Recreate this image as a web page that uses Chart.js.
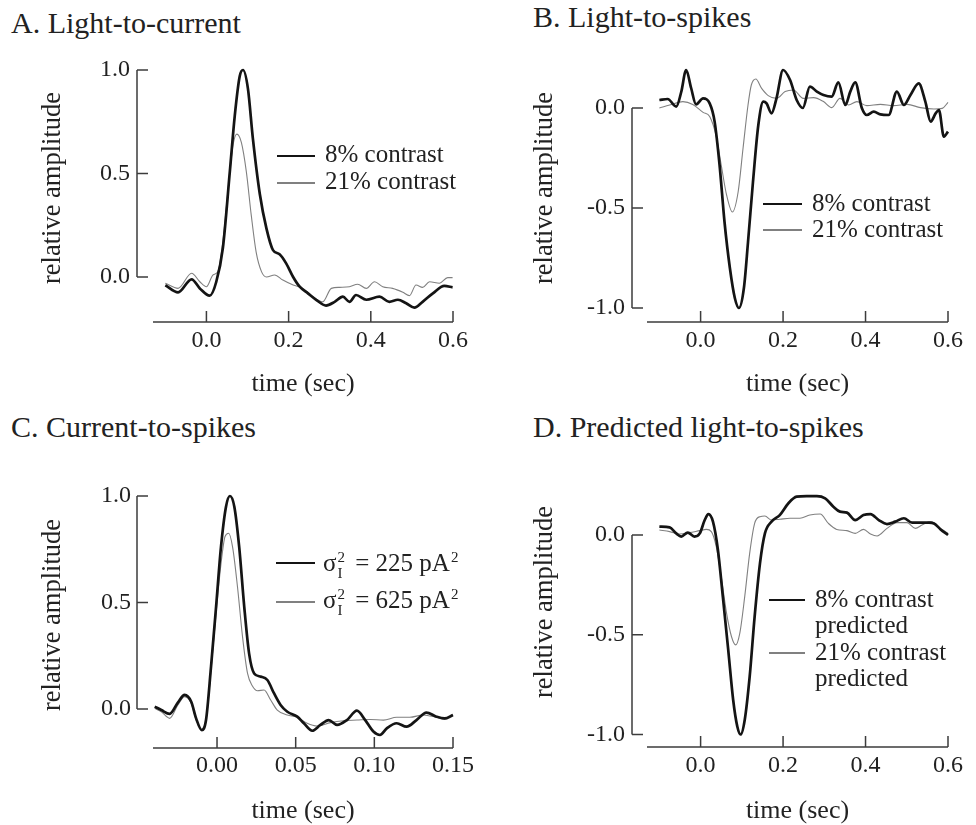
<!DOCTYPE html>
<html>
<head>
<meta charset="utf-8">
<script src="https://cdn.jsdelivr.net/npm/chart.js@4.4.1/dist/chart.umd.min.js"></script>
<style>
html, body { margin: 0; padding: 0; background: #fff; overflow: hidden; }
body { width: 976px; height: 825px; position: relative; font-family: "Liberation Serif", serif; color: #222; }
canvas { position: absolute; }
.title { position: absolute; font-size: 30px; line-height: 1; white-space: nowrap; }
.row { position: absolute; font-size: 25px; line-height: 1; white-space: nowrap; }
.row.tall { line-height: 26px; }
.swatch { position: absolute; }
.st { position: relative; display: inline-block; width: 0.5em; height: 0; }
.st span { position: absolute; left: 1px; font-size: 15px; line-height: 1; }
.st .sup { bottom: 6px; }
.st .sub { bottom: -10px; }
</style>
</head>
<body>
<div class="title" style="left:11px;top:8px">A. Light-to-current</div>
<div class="title" style="left:533px;top:2px">B. Light-to-spikes</div>
<div class="title" style="left:11px;top:412px">C. Current-to-spikes</div>
<div class="title" style="left:533px;top:412px">D. Predicted light-to-spikes</div>

<canvas id="chartA" width="490" height="400" style="left:0;top:0"></canvas>
<canvas id="chartB" width="486" height="400" style="left:490px;top:0"></canvas>
<canvas id="chartC" width="490" height="427" style="left:0;top:400px"></canvas>
<canvas id="chartD" width="486" height="427" style="left:490px;top:400px"></canvas>

<script>
// A. light-to-current
var aTime8 = [-0.10,-0.069,-0.036,-0.016,0.008,0.024,0.040,0.057,0.069,0.081,0.089,0.101,0.113,0.130,0.146,0.162,0.178,0.194,0.211,0.227,0.247,0.267,0.291,0.312,0.332,0.348,0.364,0.389,0.421,0.445,0.466,0.486,0.506,0.526,0.551,0.579,0.599];
var aAmp8 = [-0.04,-0.074,-0.011,-0.055,-0.09,-0.023,0.14,0.51,0.78,0.97,1.0,0.91,0.67,0.40,0.235,0.13,0.11,0.066,0.0,-0.047,-0.079,-0.11,-0.138,-0.12,-0.095,-0.12,-0.087,-0.11,-0.095,-0.12,-0.11,-0.127,-0.148,-0.12,-0.079,-0.043,-0.05];
var aTime21 = [-0.10,-0.069,-0.036,-0.016,0.0,0.016,0.028,0.040,0.053,0.065,0.074,0.085,0.097,0.109,0.121,0.134,0.146,0.166,0.186,0.211,0.235,0.259,0.283,0.304,0.324,0.348,0.368,0.389,0.409,0.429,0.453,0.478,0.494,0.510,0.526,0.543,0.567,0.587,0.599];
var aAmp21 = [-0.03,-0.055,0.018,-0.023,-0.047,0.01,0.026,0.17,0.43,0.64,0.69,0.65,0.51,0.30,0.12,0.026,0.0,0.01,-0.015,-0.039,-0.055,-0.095,-0.12,-0.055,-0.05,-0.047,-0.035,-0.055,-0.023,-0.047,-0.055,-0.074,-0.09,-0.039,-0.05,-0.023,-0.03,-0.003,-0.003];

// B. light-to-spikes
var bTime8 = [-0.10,-0.08,-0.059,-0.047,-0.035,-0.023,-0.011,0.006,0.022,0.034,0.046,0.058,0.071,0.083,0.093,0.105,0.115,0.127,0.140,0.152,0.160,0.172,0.184,0.200,0.217,0.233,0.248,0.265,0.282,0.298,0.318,0.334,0.351,0.363,0.375,0.391,0.403,0.420,0.436,0.456,0.476,0.493,0.509,0.529,0.545,0.558,0.570,0.578,0.590,0.600];
var bAmp8 = [0.04,0.045,0.007,0.08,0.19,0.10,0.018,0.048,0.023,-0.068,-0.285,-0.57,-0.80,-0.95,-1.0,-0.90,-0.67,-0.37,-0.085,0.032,0.023,-0.027,0.048,0.19,0.14,0.04,0.0,0.107,0.082,0.065,0.057,0.128,0.015,0.082,0.128,0.0,-0.035,-0.018,-0.032,-0.035,0.082,0.015,0.065,0.123,0.032,-0.068,-0.027,-0.01,-0.143,-0.118];
var bTime21 = [-0.10,-0.075,-0.043,-0.019,0.006,0.022,0.038,0.050,0.063,0.077,0.091,0.103,0.115,0.123,0.134,0.148,0.164,0.184,0.205,0.225,0.249,0.274,0.298,0.318,0.338,0.359,0.379,0.403,0.436,0.468,0.501,0.533,0.566,0.586,0.600];
var bAmp21 = [0.0,0.015,0.032,0.018,-0.022,-0.043,-0.143,-0.285,-0.435,-0.52,-0.42,-0.20,0.015,0.115,0.145,0.098,0.062,0.048,0.082,0.09,0.048,0.052,0.032,0.002,0.048,0.015,0.032,0.012,0.018,0.012,0.018,0.002,-0.005,-0.002,0.028];

// C. current-to-spikes
var cTime225 = [-0.0396,-0.0354,-0.0301,-0.0249,-0.0206,-0.0164,-0.0133,-0.0097,-0.007,-0.0038,-0.0006,0.0025,0.0057,0.0082,0.011,0.0141,0.0173,0.0204,0.0236,0.0278,0.032,0.0362,0.0404,0.0447,0.051,0.0552,0.0605,0.0657,0.071,0.0763,0.0826,0.0889,0.0942,0.0994,0.1036,0.1079,0.1142,0.1205,0.1268,0.1331,0.1395,0.1447,0.15];
var cAmp225 = [0.011,-0.005,-0.023,0.03,0.066,0.034,-0.044,-0.099,-0.052,0.2,0.48,0.76,0.95,1.0,0.95,0.76,0.48,0.26,0.167,0.152,0.136,0.074,0.019,-0.013,-0.036,-0.067,-0.102,-0.075,-0.052,-0.075,-0.052,-0.008,-0.052,-0.106,-0.122,-0.091,-0.067,-0.083,-0.052,-0.017,-0.036,-0.044,-0.028];
var cTime625 = [-0.0396,-0.0354,-0.0301,-0.0249,-0.0206,-0.0164,-0.0133,-0.0097,-0.007,-0.0038,-0.0006,0.0025,0.0051,0.0074,0.0099,0.013,0.0162,0.0194,0.0225,0.0257,0.0299,0.0341,0.0383,0.0446,0.051,0.0573,0.0636,0.0721,0.0805,0.089,0.0974,0.1058,0.1142,0.1226,0.131,0.1394,0.1447,0.15];
var cAmp625 = [0.003,-0.013,-0.044,0.019,0.058,0.027,-0.049,-0.099,-0.052,0.183,0.45,0.68,0.81,0.825,0.76,0.574,0.34,0.167,0.108,0.086,0.089,0.042,-0.005,-0.028,-0.039,-0.067,-0.08,-0.064,-0.055,-0.052,-0.049,-0.052,-0.039,-0.039,-0.028,-0.039,-0.049,-0.033];

// D. predicted light-to-spikes
var dTime8 = [-0.10,-0.075,-0.059,-0.047,-0.031,-0.015,-0.002,0.010,0.019,0.030,0.042,0.054,0.067,0.079,0.089,0.097,0.107,0.119,0.131,0.144,0.156,0.172,0.192,0.213,0.233,0.257,0.282,0.302,0.322,0.338,0.355,0.375,0.395,0.412,0.432,0.452,0.472,0.493,0.513,0.533,0.554,0.566,0.582,0.600];
var dAmp8 = [0.042,0.038,0.008,-0.008,0.012,-0.008,0.008,0.075,0.105,0.067,-0.075,-0.31,-0.576,-0.827,-0.96,-1.0,-0.927,-0.71,-0.41,-0.142,0.008,0.067,0.1,0.159,0.192,0.195,0.195,0.184,0.142,0.117,0.112,0.075,0.1,0.105,0.075,0.055,0.067,0.084,0.062,0.062,0.062,0.058,0.028,0.0];
var dTime21 = [-0.10,-0.075,-0.051,-0.027,-0.002,0.014,0.026,0.038,0.050,0.063,0.075,0.085,0.095,0.107,0.119,0.131,0.144,0.156,0.172,0.192,0.217,0.241,0.265,0.290,0.310,0.330,0.355,0.375,0.395,0.412,0.428,0.452,0.476,0.501,0.521,0.537,0.558,0.582,0.600];
var dAmp21 = [0.025,0.017,0.005,0.012,0.022,0.028,0.017,-0.058,-0.209,-0.393,-0.51,-0.551,-0.493,-0.309,-0.092,0.058,0.092,0.095,0.075,0.079,0.084,0.084,0.1,0.105,0.058,0.028,0.022,0.008,0.028,0.005,-0.005,0.033,0.062,0.062,0.033,0.05,0.067,0.033,0.008];

// tick labels
var lightTicks = [0.0, 0.2, 0.4, 0.6];
var currentTicks = [0.00, 0.05, 0.10, 0.15];
var posTicks = [0.0, 0.5, 1.0];
var negTicks = [-1.0, -0.5, 0.0];

// legend labels
var contrastLabels = ['8% contrast', '21% contrast'];
var sigmaLabels = ['225', '625'];
var predictedLabels = ['8% contrast<br>predicted', '21% contrast<br>predicted'];

var xTitle = 'time (sec)';
var yTitle = 'relative amplitude';

var dark = '#141414';
var grey = '#808080';
var axisColor = '#3c3c3c';
var textColor = '#222';
var serif = '"Liberation Serif", serif';

function pts(t, v) {
    return t.map(function(x, i) { return { x: x, y: v[i] }; });
}

// detached axis lines with inward ticks
var spines = {
    id: 'spines',
    afterDraw: function(chart, args, opts) {
        var ctx = chart.ctx, a = chart.chartArea;
        var x = chart.scales.x, y = chart.scales.y;
        var yv = y.ticks.map(function(t) { return t.value; });
        var yx = a.left - opts.gap;
        ctx.save();
        ctx.strokeStyle = axisColor;
        ctx.lineWidth = 1.5;
        ctx.beginPath();
        ctx.moveTo(yx, y.getPixelForValue(Math.max.apply(null, yv)));
        ctx.lineTo(yx, y.getPixelForValue(Math.min.apply(null, yv)));
        yv.forEach(function(v) {
            var p = y.getPixelForValue(v);
            ctx.moveTo(yx, p);
            ctx.lineTo(yx + 11, p);
        });
        ctx.moveTo(a.left, a.bottom);
        ctx.lineTo(a.right, a.bottom);
        x.ticks.forEach(function(t) {
            var p = x.getPixelForValue(t.value);
            ctx.moveTo(p, a.bottom);
            ctx.lineTo(p, a.bottom - 11);
        });
        ctx.stroke();
        ctx.restore();
    }
};

function makeChart(id, p) {
    return new Chart(document.getElementById(id), {
        type: 'line',
        data: {
            datasets: [{
                data: pts(p.t1, p.v1),
                borderColor: dark,
                borderWidth: 2.7
            }, {
                data: pts(p.t2, p.v2),
                borderColor: grey,
                borderWidth: 1.1
            }]
        },
        options: {
            responsive: false,
            animation: false,
            events: [],
            layout: { padding: { left: 0, right: p.right, top: p.top, bottom: 0 } },
            elements: {
                point: { radius: 0 },
                line: { cubicInterpolationMode: 'monotone' }
            },
            datasets: { line: { clip: false } },
            plugins: {
                legend: { display: false },
                tooltip: { enabled: false },
                spines: { gap: p.gap }
            },
            scales: {
                x: {
                    type: 'linear',
                    min: p.xMin,
                    max: p.xMax,
                    grid: { display: false, drawTicks: false },
                    border: { display: false },
                    afterBuildTicks: function(s) { s.ticks = p.xTicks.map(function(v) { return { value: v }; }); },
                    afterFit: function(s) { s.height = p.xH; },
                    ticks: {
                        autoSkip: false,
                        maxRotation: 0,
                        padding: p.xPad,
                        color: textColor,
                        font: { family: serif, size: 24 },
                        callback: function(v) { return v.toFixed(p.xDec); }
                    },
                    title: {
                        display: true,
                        text: xTitle,
                        color: textColor,
                        font: { family: serif, size: 26 },
                        padding: { top: 0, bottom: 0 }
                    }
                },
                y: {
                    min: p.yMin,
                    max: p.yMax,
                    grid: { display: false, drawTicks: false },
                    border: { display: false },
                    afterBuildTicks: function(s) { s.ticks = p.yTicks.map(function(v) { return { value: v }; }); },
                    afterFit: function(s) { s.width = p.yW; },
                    ticks: {
                        autoSkip: false,
                        padding: p.yPad,
                        color: textColor,
                        font: { family: serif, size: 24 },
                        callback: function(v) { return v.toFixed(1); }
                    },
                    title: {
                        display: true,
                        text: yTitle,
                        color: textColor,
                        font: { family: serif, size: 26.5 },
                        padding: { top: p.yTitlePad, bottom: 0 }
                    }
                }
            }
        },
        plugins: [spines]
    });
}

makeChart('chartA', {
    t1: aTime8, v1: aAmp8, t2: aTime21, v2: aAmp21,
    xMin: -0.13, xMax: 0.6, xTicks: lightTicks, xDec: 1,
    yMin: -0.2174, yMax: 1.0773, yTicks: posTicks,
    right: 37, top: 54, xH: 78, yW: 153, xPad: 4, yPad: 23, gap: 16, yTitlePad: 37
});
makeChart('chartB', {
    t1: bTime8, v1: bAmp8, t2: bTime21, v2: bAmp21,
    xMin: -0.13, xMax: 0.6, xTicks: lightTicks, xDec: 1,
    yMin: -1.07, yMax: 0.27, yTicks: negTicks,
    right: 28, top: 54, xH: 78, yW: 157, xPad: 4, yPad: 22, gap: 15, yTitlePad: 39
});
makeChart('chartC', {
    t1: cTime225, v1: cAmp225, t2: cTime625, v2: cAmp625,
    xMin: -0.0407, xMax: 0.15, xTicks: currentTicks, xDec: 2,
    yMin: -0.1831, yMax: 1.0657, yTicks: posTicks,
    right: 37, top: 82, xH: 79, yW: 153, xPad: 3, yPad: 22, gap: 16, yTitlePad: 37
});
makeChart('chartD', {
    t1: dTime8, v1: dAmp8, t2: dTime21, v2: dAmp21,
    xMin: -0.13, xMax: 0.6, xTicks: lightTicks, xDec: 1,
    yMin: -1.0627, yMax: 0.391, yTicks: negTicks,
    right: 28, top: 57, xH: 80, yW: 157, xPad: 4, yPad: 22, gap: 15, yTitlePad: 39
});

// legends: line swatch plus label, placed inside each plot
function swatch(x1, x2, y, dark8) {
    var d = document.createElement('div');
    var w = dark8 ? 2.7 : 1.1;
    d.className = 'swatch';
    d.style.left = x1 + 'px';
    d.style.width = (x2 - x1) + 'px';
    d.style.top = (y - w / 2) + 'px';
    d.style.height = w + 'px';
    d.style.background = dark8 ? dark : grey;
    document.body.appendChild(d);
}
function label(x, top, html, tall) {
    var d = document.createElement('div');
    d.className = tall ? 'row tall' : 'row';
    d.style.left = x + 'px';
    d.style.top = top + 'px';
    d.innerHTML = html;
    document.body.appendChild(d);
}
function sigma(v) {
    return '\u03c3<span class="st"><span class="sup">2</span><span class="sub">I</span></span> = ' + v +
        ' pA<span class="st"><span class="sup">2</span></span>';
}

swatch(277, 315, 156, true); label(325, 141, contrastLabels[0]);
swatch(277, 315, 183, false); label(325, 168, contrastLabels[1]);

swatch(763, 802, 204, true); label(812, 190, contrastLabels[0]);
swatch(763, 802, 230, false); label(812, 216, contrastLabels[1]);

swatch(276, 315, 563, true); label(323, 550, sigma(sigmaLabels[0]));
swatch(276, 315, 602, false); label(323, 587, sigma(sigmaLabels[1]));

swatch(769, 805, 600, true); label(815, 586, predictedLabels[0], true);
swatch(769, 805, 653, false); label(815, 639, predictedLabels[1], true);
</script>
</body>
</html>
